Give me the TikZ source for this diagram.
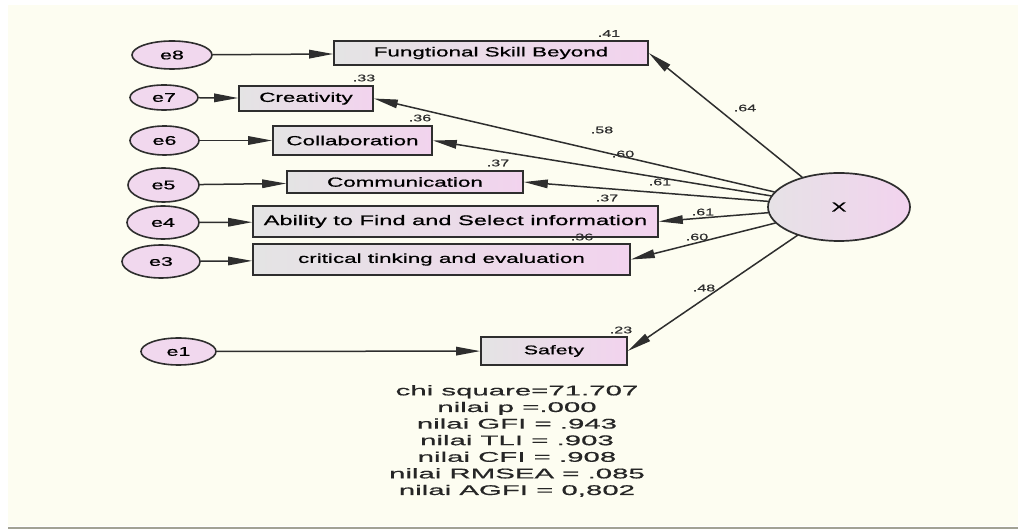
\documentclass[tikz,border=0pt]{standalone}
\usepackage{fontspec}
\setmainfont{Liberation Sans}
\newfontfamily\diagfont{Liberation Sans}[FakeStretch=1.7,FakeBold=0.7]
\newfontfamily\statfont{Liberation Sans}[FakeStretch=2.1,FakeBold=0.7]
\usetikzlibrary{shapes.geometric,arrows.meta}
\definecolor{paper}{HTML}{FDFDF1}
\definecolor{rule}{HTML}{A2A294}
\definecolor{linegray}{HTML}{2E2E2E}
\definecolor{boxgray}{HTML}{E4E4E4}
\definecolor{boxpink}{HTML}{F2D3EE}
\definecolor{errpink}{HTML}{F1D8EE}
\definecolor{latgray}{HTML}{E6E2E6}

\begin{document}
\begin{tikzpicture}[
  x=1pt,y=-1pt,
  line cap=round,
  every node/.style={font=\diagfont},
  errvar/.style={ellipse,draw=linegray,line width=1.6pt,fill=errpink,inner sep=0pt,
    font=\diagfont\fontsize{12.6}{14}\selectfont},
  obsbox/.style={rectangle,draw=linegray,line width=1.6pt,left color=boxgray,right color=boxpink,
    inner sep=0pt,font=\diagfont\fontsize{13.2}{15}\selectfont},
  coef/.style={inner sep=0pt,text=linegray,font=\diagfont\fontsize{9.5}{11}\selectfont},
  regline/.style={draw=linegray,line width=1.5pt,-{Triangle[length=24pt,width=8.5pt]}}
]
  \useasboundingbox (0,0) rectangle (1018,529);
  \fill[white] (0,0) rectangle (1018,529);
  \fill[paper] (8,5) rectangle (1018,526);
  \draw[rule,line width=2pt,line cap=butt] (8,527.5) -- (1018,527.5);

  \node[obsbox,minimum width=314,minimum height=24] (fsb) at (491,53) {Fungtional Skill Beyond};
  \node[obsbox,minimum width=134,minimum height=25] (cre) at (306,98.5) {Creativity};
  \node[obsbox,minimum width=159,minimum height=29] (col) at (352.5,140.5) {Collaboration};
  \node[obsbox,minimum width=236,minimum height=22] (com) at (405,182) {Communication};
  \node[obsbox,minimum width=405,minimum height=31,font=\diagfont\fontsize{13.9}{15}\selectfont]
    (abi) at (455.5,221.5) {Ability to Find and Select information};
  \node[obsbox,minimum width=377,minimum height=31] (cri) at (441.5,259.5) {critical tinking and evaluation};
  \node[obsbox,minimum width=146,minimum height=28,font=\diagfont\fontsize{12.5}{14}\selectfont]
    (saf) at (554,351) {Safety};

  \node[errvar,minimum width=80,minimum height=28] (e8) at (172,55) {e8};
  \node[errvar,minimum width=68,minimum height=25] (e7) at (164,97.5) {e7};
  \node[errvar,minimum width=69,minimum height=29] (e6) at (164.5,140.5) {e6};
  \node[errvar,minimum width=71,minimum height=34] (e5) at (163.5,185) {e5};
  \node[errvar,minimum width=72,minimum height=33] (e4) at (163,222.5) {e4};
  \node[errvar,minimum width=78,minimum height=33] (e3) at (161,261.5) {e3};
  \node[errvar,minimum width=75,minimum height=27] (e1) at (178.5,351.5) {e1};

  \node[ellipse,draw=linegray,line width=1.7pt,left color=latgray,right color=boxpink,
    minimum width=142,minimum height=68,inner sep=0pt,
    font=\diagfont\fontsize{13}{15}\selectfont] (X) at (839,207) {X};

  \foreach \e/\b in {e8/fsb,e7/cre,e6/col,e5/com,e4/abi,e3/cri,e1/saf}
    \draw[regline] (\e) -- (\b);

  \foreach \b in {fsb,cre,col,com,abi,cri,saf}
    \draw[regline] (X) -- (\b.east);

  \node[coef] (r2fsb) at (609,33.5) {.41};
  \node[coef] (r2cre) at (364,78) {.33};
  \node[coef] (r2col) at (420,118) {.36};
  \node[coef] (r2com) at (498,163) {.37};
  \node[coef] (r2abi) at (607,198) {.37};
  \node[coef] (r2cri) at (582,237) {.36};
  \node[coef] (r2saf) at (621,330) {.23};

  \node[coef] (lfsb) at (745,108) {.64};
  \node[coef] (lcre) at (602,130) {.58};
  \node[coef] (lcol) at (623,154) {.60};
  \node[coef] (lcom) at (660,182) {.61};
  \node[coef] (labi) at (703,212) {.61};
  \node[coef] (lcri) at (697,237) {.60};
  \node[coef] (lsaf) at (704,288) {.48};

  \node[align=center,inner sep=0pt,text=black!85,font=\statfont\fontsize{14}{16.6}\selectfont]
    (fit) at (517,441) {chi square=71.707\\nilai p =.000\\nilai GFI = .943\\nilai TLI = .903\\
    nilai CFI = .908\\nilai RMSEA = .085\\nilai AGFI = 0,802};
\end{tikzpicture}
\end{document}
